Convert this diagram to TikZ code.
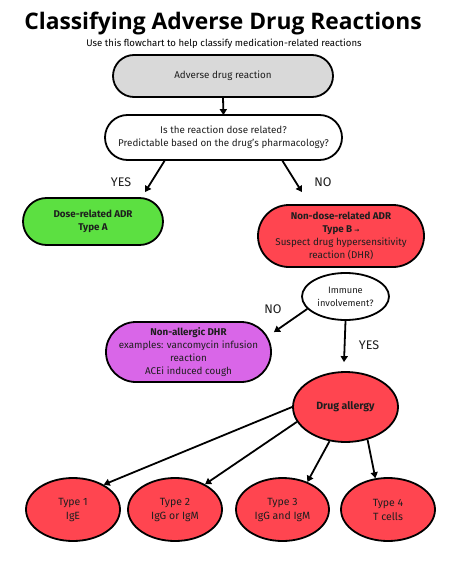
\documentclass[tikz,border=0pt]{standalone}
\usepackage{fontspec}
\setmainfont{Fira Sans}
\newfontfamily\titlefont{Open Sans}
\newfontfamily\symfont{DejaVu Sans}
\usetikzlibrary{arrows.meta,shapes.geometric}
\definecolor{gfill}{HTML}{D9D9D9}
\definecolor{grn}{HTML}{5CE041}
\definecolor{rd}{HTML}{FF4550}
\definecolor{prp}{HTML}{D966E8}
\definecolor{txt}{HTML}{1E1E1E}
\tikzset{
  pill/.style={draw=black, line width=1.8pt, rectangle, align=center, font=\fontsize{9.8}{13}\selectfont, text=txt, inner sep=0pt},
  oval/.style={draw=black, line width=1.8pt, ellipse, align=center, font=\fontsize{10.5}{14}\selectfont, text=txt, inner sep=0pt},
  conn/.style={line width=1.8pt, -{Triangle[length=6pt,width=7pt]}},
  lbl/.style={font=\fontsize{12.5}{14}\selectfont, text=txt}
}
\begin{document}
\begin{tikzpicture}[x=1pt,y=-1pt]
\useasboundingbox (0,0) rectangle (456,572);
\fill[white] (0,0) rectangle (456,572);
\node (title) at (223,24) {\titlefont\bfseries\fontsize{22.8}{24}\selectfont Classifying Adverse Drug Reactions};
\node (sub) at (224,44) {\fontsize{9.6}{11}\selectfont Use this flowchart to help classify medication-related reactions};

\node[pill, fill=gfill, minimum width=220pt, minimum height=42pt, rounded corners=21pt] (adr) at (223,76) {Adverse drug reaction};
\node[pill, fill=white, minimum width=237pt, minimum height=45pt, rounded corners=22.5pt] (q) at (223.5,137.5) {Is the reaction dose related?\\Predictable based on the drug's pharmacology?};
\node[pill, fill=grn, minimum width=140pt, minimum height=47pt, rounded corners=23.5pt] (ta) at (93,221.5) {\bfseries Dose-related ADR\\\bfseries Type A};
\node[pill, fill=rd, minimum width=166pt, minimum height=62pt, rounded corners=31pt] (tb) at (341,236) {\bfseries Non-dose-related ADR\\\bfseries Type B {\symfont\fontsize{6}{8}\selectfont →}\\Suspect drug hypersensitivity\\reaction (DHR)};
\node[oval, fill=white, minimum width=87pt, minimum height=47pt, font=\fontsize{9.3}{13}\selectfont] (imm) at (345.5,296.5) {Immune\\involvement?};
\node[pill, fill=prp, minimum width=165pt, minimum height=60pt, rounded corners=30pt] (na) at (188.5,352) {\bfseries Non-allergic DHR\\examples: vancomycin infusion\\reaction\\ACEi induced cough};
\node[oval, fill=rd, minimum width=105pt, minimum height=70pt] (da) at (345.5,407) {\bfseries Drug allergy};
\node[oval, fill=rd, minimum width=94pt, minimum height=63pt] (t1) at (73,509.5) {Type 1\\IgE};
\node[oval, fill=rd, minimum width=94pt, minimum height=63pt] (t2) at (175,509.5) {Type 2\\IgG or IgM};
\node[oval, fill=rd, minimum width=93pt, minimum height=63pt] (t3) at (282.5,509.5) {Type 3\\IgG and IgM};
\node[oval, fill=rd, minimum width=94pt, minimum height=63pt] (t4) at (388,509.5) {Type 4\\T cells};

\draw[conn] (adr.south) -- ([yshift=-1pt]q.north);
\draw[conn] ([xshift=-59pt]q.south) -- ([xshift=52pt,yshift=5pt]ta.north);
\draw[conn] ([xshift=59pt]q.south) -- ([xshift=-39pt,yshift=12pt]tb.north);
\draw[conn] (imm.198) -- ([xshift=2pt,yshift=-11pt]na.north east);
\draw[conn] (imm.south) -- ([xshift=-1.5pt,yshift=9pt]da.north);
\draw[conn] (da.west) -- (t1.39);
\draw[conn] (da.197) -- (t2.40);
\draw[conn] (da.245) -- (t3.48);
\draw[conn] (da.304) -- (t4.112);

\node[lbl] (yes1) at (121,182) {YES};
\node[lbl] (no1) at (323,182) {NO};
\node[lbl] (no2) at (273,309) {NO};
\node[lbl] (yes2) at (369,345) {YES};
\end{tikzpicture}
\end{document}
